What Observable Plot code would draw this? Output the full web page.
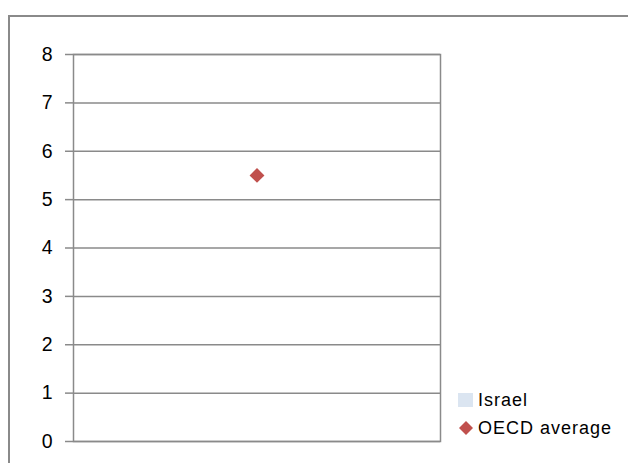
<!DOCTYPE html>
<html>
<head>
<meta charset="utf-8">
<script src="https://cdn.jsdelivr.net/npm/d3@7"></script>
<script src="https://cdn.jsdelivr.net/npm/@observablehq/plot@0.6"></script>
<style>
  body { margin: 0; background: #fff; }
  #wrap { position: relative; width: 628px; height: 463px; overflow: hidden; font-family: "Liberation Sans", Arial, sans-serif; }
  #border { position: absolute; left: 8px; top: 15px; width: 700px; height: 600px; border: 2px solid #8a8a8a; box-sizing: border-box; }
  #legend { position: absolute; left: 458px; top: 386px; font-size: 18px; letter-spacing: 1px; color: #000; }
  .item { display: flex; align-items: center; height: 28px; }
  .item svg { margin-right: 4px; }
  #chart svg text { font-size: 19.5px !important; }
</style>
</head>
<body>
<div id="wrap">
  <div id="border"></div>
  <div id="chart"></div>
  <div id="legend"></div>
</div>
<script>
const categories = ["Israel"];
const israelValues = [null];
const oecdValues = [5.5];
const yTicks = [0, 1, 2, 3, 4, 5, 6, 7, 8];
const seriesNames = ["Israel", "OECD average"];
const seriesColors = ["#DBE5F1", "#C0504D"];

const oecd = categories.map((c, i) => ({category: c, value: oecdValues[i]}));
const israel = categories.map((c, i) => ({category: c, value: israelValues[i]})).filter(d => d.value != null);

const chart = Plot.plot({
  width: 628,
  height: 463,
  marginLeft: 73,
  marginRight: 188,
  marginTop: 54,
  marginBottom: 22,
  style: { fontFamily: "Liberation Sans, Arial, sans-serif", fontSize: "19.5px", background: "transparent", overflow: "visible" },
  x: { domain: categories, axis: null, padding: 0 },
  y: { domain: [0, 8], ticks: yTicks },
  marks: [
    Plot.gridY(yTicks, { stroke: "#8a8a8a", strokeOpacity: 1, strokeWidth: 1.5 }),
    Plot.barY(israel, { x: "category", y: "value", fill: seriesColors[0] }),
    Plot.frame({ stroke: "#8a8a8a", strokeWidth: 1.5 }),
    Plot.axisY(yTicks, { tickSize: 8, tickPadding: 13, stroke: "#8a8a8a", strokeWidth: 1.5, fill: "#000", label: null, fontSize: 19.5 }),
    Plot.dot(oecd, { x: "category", y: "value", symbol: "diamond2", r: 6.7, fill: seriesColors[1], stroke: "none" })
  ]
});
document.getElementById("chart").appendChild(chart);

const legend = document.getElementById("legend");
seriesNames.forEach((name, i) => {
  const item = document.createElement("div");
  item.className = "item";
  const shape = i === 0
    ? `<svg width="16" height="16"><rect x="0" y="1" width="15" height="14" fill="${seriesColors[i]}"/></svg>`
    : `<svg width="16" height="16"><path d="M8,1 L15,8 L8,15 L1,8 Z" fill="${seriesColors[i]}"/></svg>`;
  item.innerHTML = shape + `<span>${name}</span>`;
  legend.appendChild(item);
});
</script>
</body>
</html>
